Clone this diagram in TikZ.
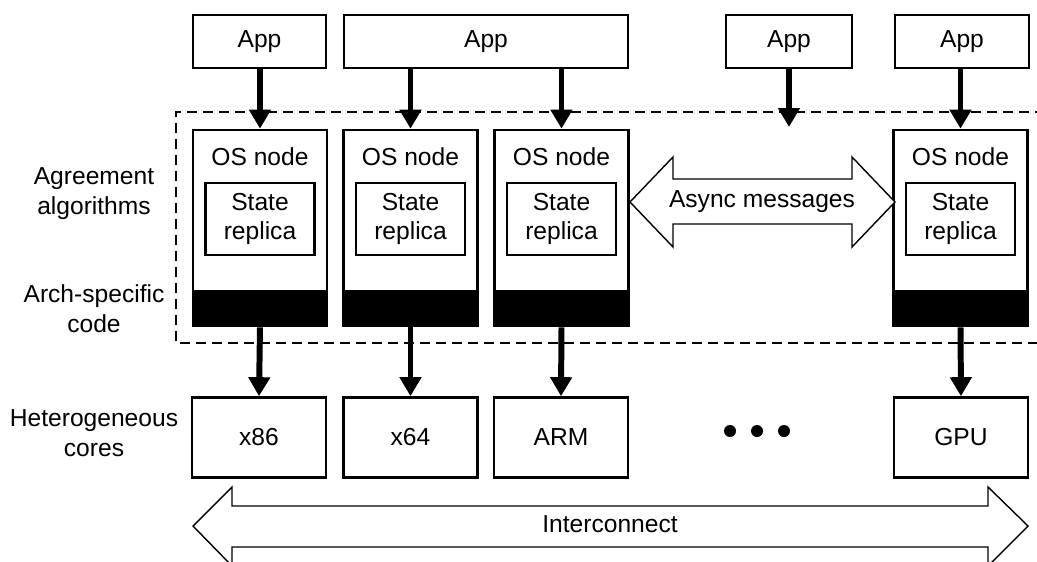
\documentclass[tikz,border=0pt]{standalone}
\usepackage{fontspec}
\setmainfont{Liberation Sans}
\usetikzlibrary{arrows.meta}
\begin{document}
\begin{tikzpicture}[x=0.2mm, y=-0.2mm,
  every node/.style={font=\fontsize{14}{17}\selectfont},
  appbox/.style={draw, line width=1pt, minimum height=10.6mm, inner sep=0pt},
  osbox/.style={draw, line width=1.5pt, minimum width=26.8mm, minimum height=39.2mm,
                inner sep=0pt,
                path picture={\fill (path picture bounding box.south west) rectangle
                  ([yshift=7.2mm]path picture bounding box.south east);}},
  statebox/.style={draw, line width=1.4pt, minimum width=21.8mm, minimum height=14.4mm,
                   align=center, inner sep=0pt},
  corebox/.style={draw, line width=1.5pt, minimum width=26.8mm, minimum height=16mm,
                  inner sep=0pt},
  sidelbl/.style={align=center},
  fat/.style={line width=3.4pt, -{Triangle[width=4.2mm,length=3.8mm]}},
  region/.style={line width=1.5pt, dash pattern=on 2mm off 1.2mm},
  blockarrow/.style={draw, line width=0.8pt, fill=white, line join=miter},
]
\useasboundingbox (0,0) rectangle (1037,562);
\clip (0,0) rectangle (1037,562);
% applications
\node[appbox, minimum width=26.6mm] (app1) at (259.5,41.5) {App};
\node[appbox, minimum width=56.8mm] (app2) at (486,41.5) {App};
\node[appbox, minimum width=25.2mm] (app3) at (789,41.5) {App};
\node[appbox, minimum width=26.8mm] (app4) at (962,41.5) {App};
% OS nodes
\node[osbox] (os1) at (260,228) {};
\node[osbox] (os2) at (410.5,228) {};
\node[osbox] (os3) at (561.5,228) {};
\node[osbox] (os4) at (960.5,228) {};
\foreach \n in {1,2,3,4} {
  \node (os\n t) at ([yshift=-5.6mm]os\n.north) {OS node};
  \node[statebox] (st\n) at ([yshift=1.8mm]os\n.center) {State\\replica};
}
% kernel region
\draw[region] (1045,112) -| (176,343) -- (1045,343);
% cores
\node[corebox] (cpu1) at (259,437.5) {x86};
\node[corebox] (cpu2) at (410.5,437.5) {x64};
\node[corebox] (cpu3) at (561,437.5) {ARM};
\node[corebox] (cpu4) at (961,437.5) {GPU};
\foreach \x in {730,757,784} \fill (\x,431) circle (1.2mm);
% arrows
\coordinate (gap) at (789,127);
\draw[fat] (os1.north |- app1.south) -- (os1.north);
\draw[fat] (os2.north |- app2.south) -- (os2.north);
\draw[fat] (os3.north |- app2.south) -- (os3.north);
\draw[fat] (app3.south) -- (gap);
\draw[fat] (os4.north |- app4.south) -- (os4.north);
\foreach \n in {1,2,3,4} \draw[fat] (os\n.south) -- (cpu\n.north);
% block arrows
\draw[blockarrow] (630,202) -- (673,157) -- (673,179) -- (852,179) -- (852,157)
  -- (895,202) -- (852,247) -- (852,224) -- (673,224) -- (673,247) -- cycle;
\node (async) at (762,202) {Async messages};
\draw[blockarrow] (193,526) -- (232,487) -- (232,506) -- (988,506) -- (988,487)
  -- (1028,526) -- (988,566) -- (988,547) -- (232,547) -- (232,566) -- cycle;
\node (icon) at (610,524) {Interconnect};
% side labels
\node[sidelbl] (agree) at (94,194) {Agreement\\algorithms};
\node[sidelbl] (arch) at (94,309) {Arch-specific\\code};
\node[sidelbl] (hetero) at (94,433) {Heterogeneous\\cores};
\end{tikzpicture}
\end{document}
